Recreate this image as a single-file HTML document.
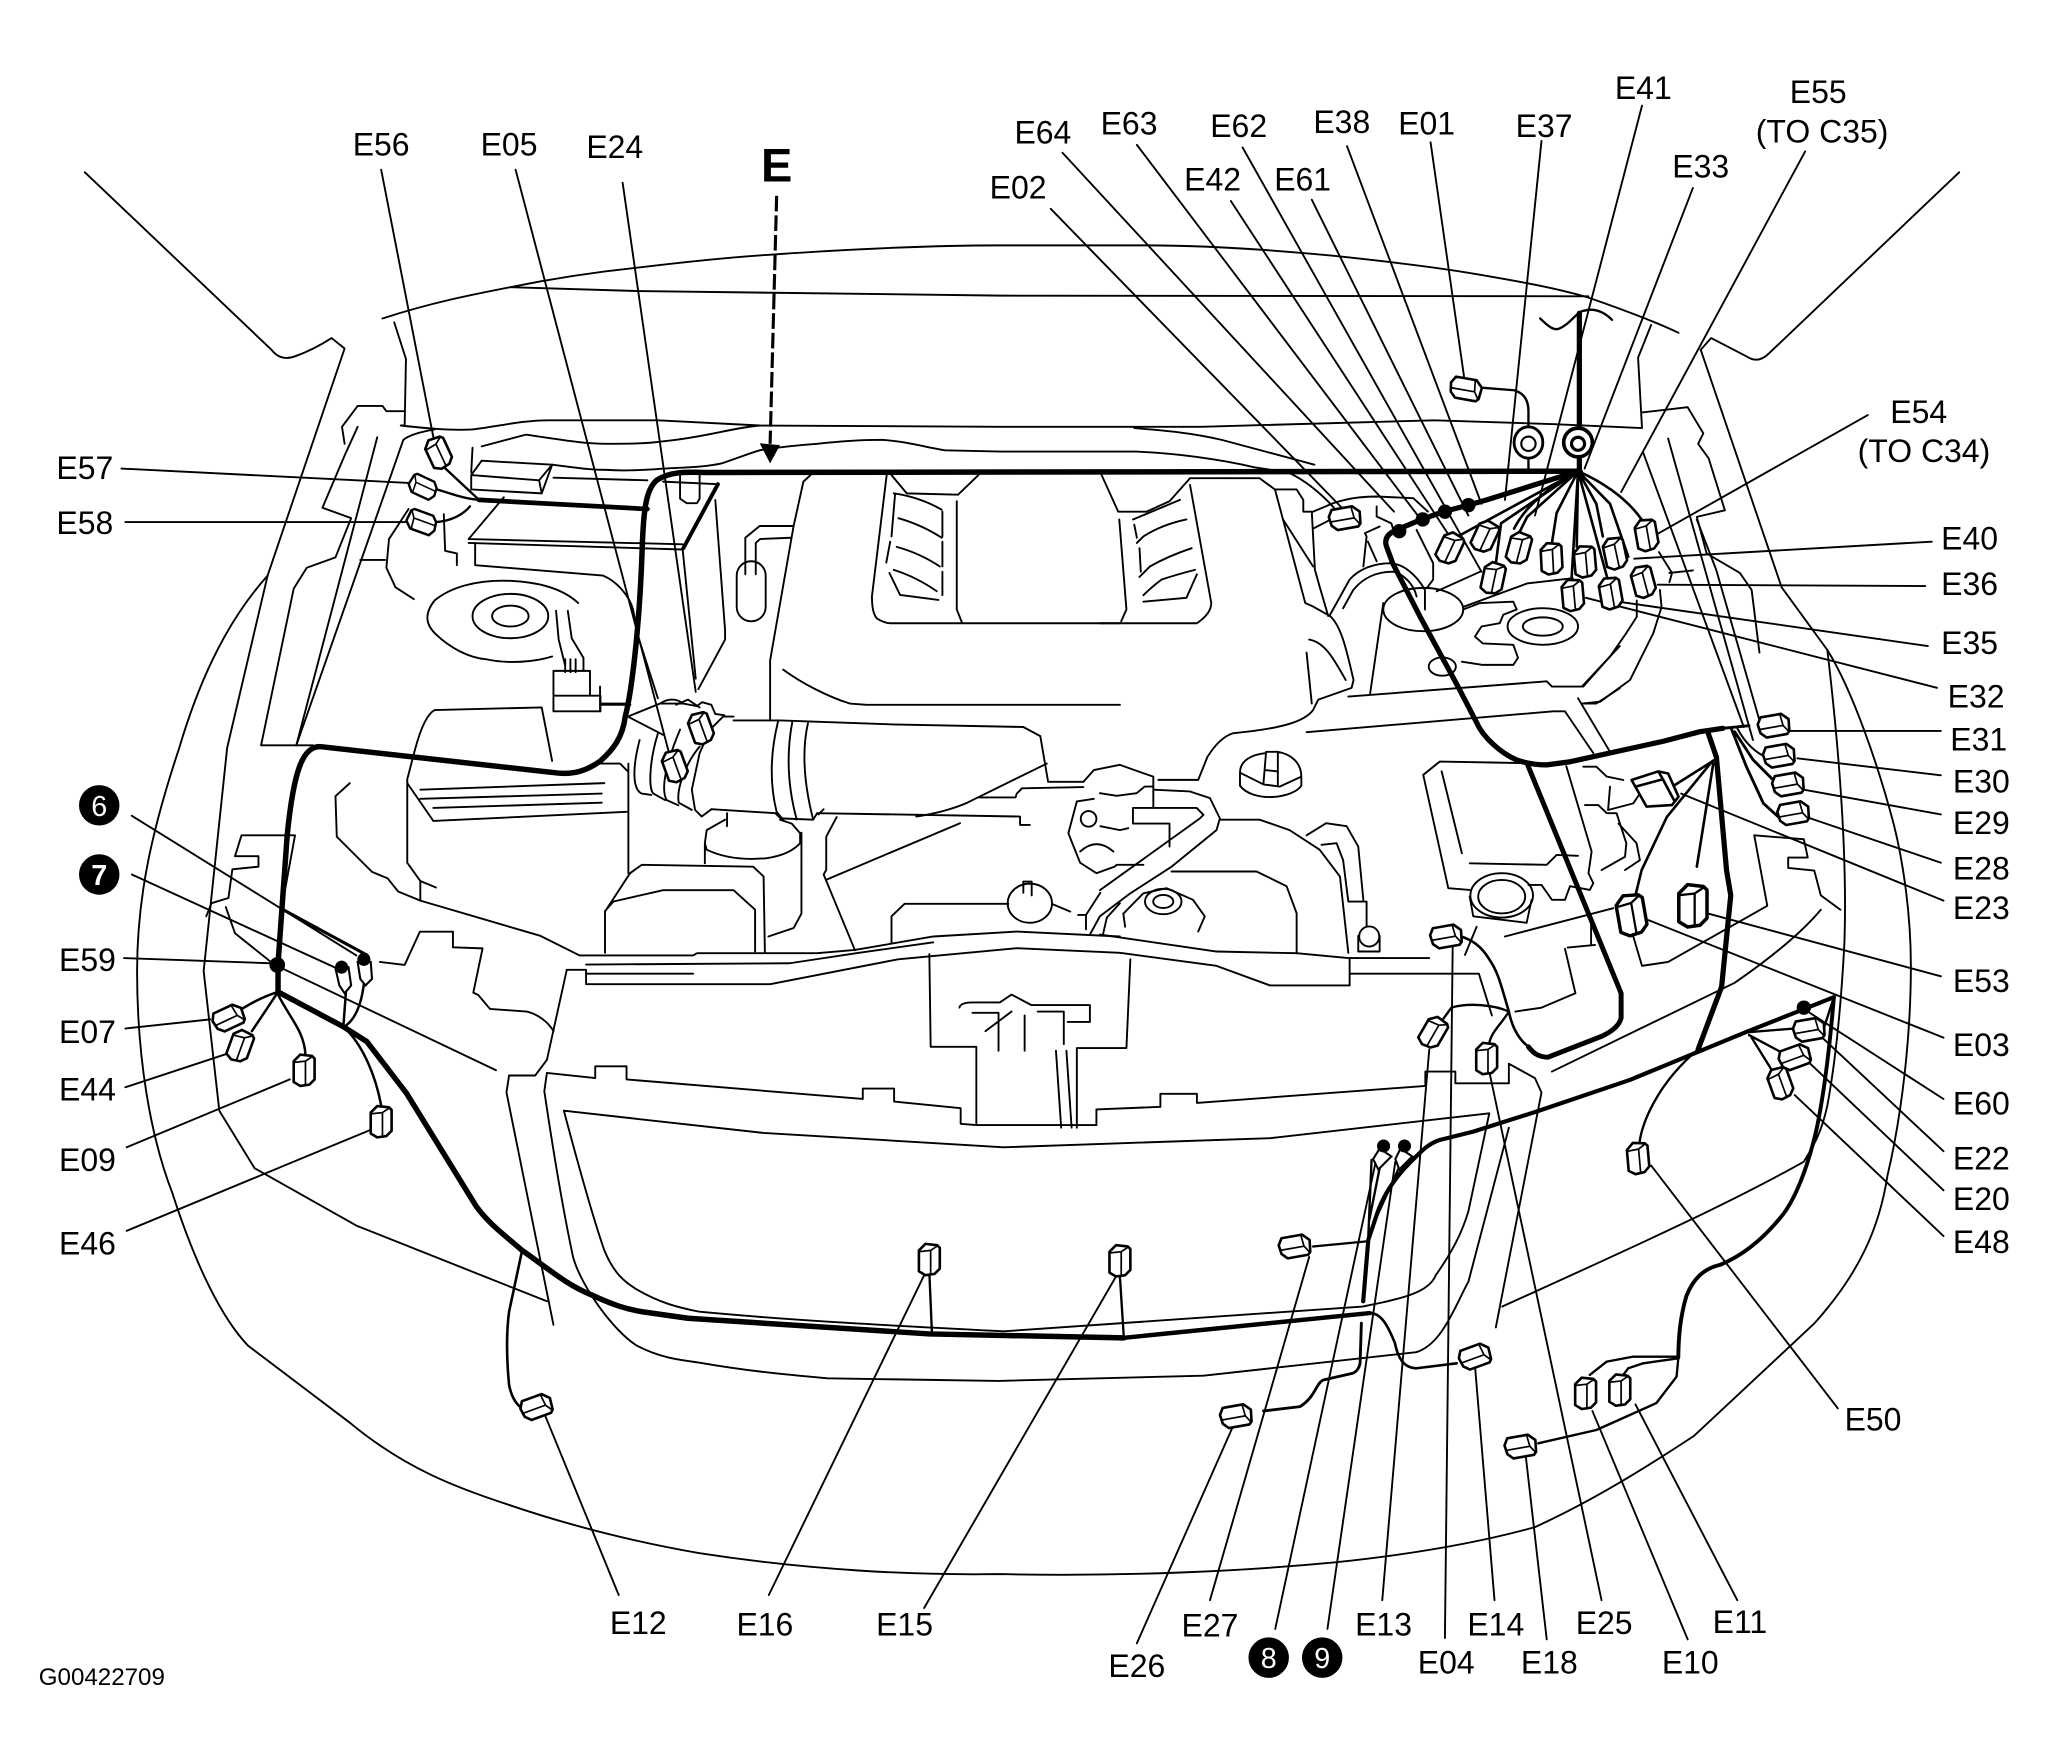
<!DOCTYPE html>
<html><head><meta charset="utf-8"><style>
html,body{margin:0;padding:0;background:#fff}
svg{display:block}
text{font-family:"Liberation Sans",sans-serif;font-size:24.5px;fill:#000;text-anchor:middle}
.t path{fill:none;stroke:#000;stroke-width:1.45;stroke-linejoin:round;stroke-linecap:round}
.t ellipse,.t circle{fill:none;stroke:#000;stroke-width:1.45}
.w path{fill:none;stroke:#000;stroke-linejoin:round;stroke-linecap:round}
</style></head><body>
<svg width="2046" height="1761" viewBox="0 0 1567.5 1349.2" xmlns="http://www.w3.org/2000/svg">
<defs>
<g id="c"><path d="M-8 -7L-3 -12L6 -11L8 -9V7L4 11L-3 12L-8 9Z" fill="#fff" stroke="#000" stroke-width="2" stroke-linejoin="round"/><path d="M-8 -6L1 -7L7 -11M1 -7V11" fill="none" stroke="#000" stroke-width="1.3"/></g>
</defs>
<g class="t">
<!-- body outlines -->
<path d="M65 132L208 268Q215 277 226 273Q240 268 254 259L264 267L205 441L174 573L156 744L168 851L195 895L273 939L419 997"/>
<path d="M205 441C170 480 150 530 137 574C115 640 105 690 105 744C105 810 115 870 132 914C150 970 170 1010 190 1031L268 1090C310 1125 350 1140 390 1153C440 1170 490 1182 536 1190C620 1203 700 1207 765 1206C860 1208 950 1204 1023 1197C1090 1190 1140 1180 1176 1170C1220 1150 1260 1125 1298 1100L1390 1014C1425 975 1440 940 1446 901C1458 850 1464 790 1464 740C1464 700 1458 660 1451 632C1440 590 1420 530 1400 498L1365 450L1303 268"/>
<path d="M1501 132L1355 271Q1347 279 1338 273L1311 259L1303 268"/>
<path d="M1400 498C1412 600 1415 670 1413 724C1410 780 1405 820 1400 847C1395 870 1388 880 1382 890C1320 925 1230 965 1151 1001"/>
<!-- hood -->
<path d="M293 244C330 232 360 226 391 220C430 212 460 208 489 205C530 200 560 197 592 195C650 191 710 188 767 188H879C930 188 980 192 1022 196C1060 200 1095 204 1125 209C1160 215 1190 220 1217 228C1240 236 1265 245 1286 255"/>
<path d="M391 220L489 223L767 226.5L1217 227"/>
<!-- cowl -->
<path d="M302 247L311 275L310 326L307 326C325 328 345 330 362 329C380 327 400 322 420 322L504 322L582 326L767 327L920 327L1099 322L1191 325L1258 328L1255 274L1265 249"/>
<path d="M1258 316L1293 312L1305 332L1301 340L1309 351L1321.5 391L1300 396L1307.5 424L1333 439L1342 452L1348 500"/>
<path d="M1259 347L1336 557M1278 336L1343 567M1300 398L1315 437L1348 552"/>
<path d="M1271 423L1281 439L1279 446M1279 439L1297 437"/>
<path d="M309 315L296 315L293 311L274 311L262 327L264 340"/>
<path d="M274 327L264 349L247 389L269 397L257 427L235 435L225 451L200 571H230L240 571"/>
<path d="M289 335L227 571"/><path d="M333 329Q315 332 309 337L227 571"/>
<path d="M313 390L298 413L296 435L303 450L317 459"/><path d="M340 394L341 422L350 424L350 433"/>
<path d="M276 429H295"/>
<!-- relay & battery -->
<path d="M369 342L403 333C425 336 445 340 465 340C480 340 495 340 509 338C540 335 560 328 582 326"/>
<path d="M362 343L361 362"/>
<path d="M361 364L369 353L423 356L415 378L361 375ZM361 364L413 368L423 356M413 368L415 378"/>
<path d="M423 356C440 358 450 360 465 360C480 361 495 360 509 359C525 358 540 358 553 355C565 351 572 348 582 345C600 342 612 341 626 340C645 338 660 337 675 337C695 338 710 343 724 345L767 346H869C900 347 935 352 961 358L987 362C1000 368 1012 378 1022 389"/>
<path d="M869 328C895 330 915 332 936 337L1007 356"/>
<path d="M424 366L496 368"/>
<path d="M359 413L386 381M359 413L523 417M508 369L550 371M359 416L523 421M364 416V433L462 441C472 445 482 456 485 467L489 488L504 535"/>
<path d="M523 421L533 520M548 383L555.5 483V490L535 528"/>
<path d="M550 371L523.5 420" style="stroke-width:3"/>
<path d="M521 364V382L526 385.5H534L536 382V364"/>
<ellipse cx="391" cy="472" rx="29" ry="17"/><ellipse cx="391" cy="472" rx="14" ry="8"/>
<path d="M443 462C430 450 411 446 391 445C365 444 345 450 333 460C325 470 326 478 333 485C345 497 360 504 372 505C390 509 410 507 423 503"/>
<path d="M426 468L428 490L433 510M435 468L438 489L447 504V514"/>
<path d="M433 505V515M437 505V515M441 505V515"/>
<path d="M425 514H452V533H460V545H424V533H452M424 533V514M460 539H482"/>
<!-- washer -->
<path d="M333 544L415 542L423 583M333 544Q325 548 318 574L312 597V661L322 675L334 680M322 675V690"/>
<path d="M312 600L332 629L480 622M322 605L463 600M322 612L461 608M332 619L461 615M481.4 585V669M460 585L475 585L481 591"/>
<path d="M268 600L257 610L258 641L285 668L297 673L305 683L322 690L414 717L444 732H531L534 730.3H626L655 727.8L715 717.5L779 713.7L858 717.5"/>
<path d="M173 695L180 715L210 739L380 820"/>
<path d="M185 640H226L215 700M185 640L180 656H198V664L178 666L175 688L162 692L158 702"/>
<path d="M291 737L310 739.3L321.7 713.8H347V725.8L369.7 726.6L362.6 760.5L366.4 762.3L375.4 773L403.5 775C412 777 420 783 424 790"/>
<!-- cross member -->
<path d="M434 744L419 812L410 824L390 824L388 837L424 1015"/>
<path d="M434 743H449V754L590 754L688 735L779 726.5L858 730L932 740L973 755H1034V734"/>
<path d="M449 739L605 738L658 730L715 722M842.7 716L932 729L993.4 730.3L1033 734H1095"/>
<path d="M449 746H531"/>
<path d="M1034 746H1133L1143 778"/>
<!-- grille -->
<path d="M419 822L417 836C425 890 432 930 439 963C445 985 470 1020 488 1031C505 1040 520 1042 536 1044C570 1050 600 1053 634 1056L765 1058L922 1054L1085 1036C1105 1030 1115 1000 1125 982L1156 864"/>
<path d="M419 822L456 826V817H480V827L661 842V834H685V844L736 849V861L748 862H840V850L889 848V838H917V845L1092 832V821H1115V830H1156V815L1176 826L1181 837L1146 1017"/>
<path d="M432 851C445 900 455 935 463 958C470 975 478 982 488 988C505 998 520 1002 536 1005C610 1012 690 1016 769 1020L1044 1001C1075 995 1095 990 1100 977C1112 960 1120 945 1125 928L1141 853L973 872L769 879L585 868L432 851Z"/>
<path d="M1189 821L1329 753C1355 735 1380 715 1395 697"/>
<!-- centre bracket -->
<path d="M712 731L713 802H748V861M866 735L863 803H825V864"/>
<path d="M809 805L813 864M817 805L821 864"/>
<path d="M735 772Q736 768 745 768H766L775 762L790 770H835M745 776H765V805M775 775L755 790M785 778V805M795 775H815V800M835 770V783H818"/>
<!-- engine cover -->
<path d="M621 364L615.5 369L608 403L590 506V551"/>
<path d="M600 513C615 524 635 534 651 539L664 540H858"/>
<path d="M679.3 364L668 457Q668 470 672 474Q678 477.5 682 477.5H858"/>
<path d="M733 384V467L737 477M683 364L694.7 378L734 379L749.6 364"/>
<path d="M684.7 378Q705 381 721.5 390.6M688.3 397Q706 402 721.5 412M687 419Q705 424 720 434M684.7 436.6Q702 442 717.7 453M681.4 439L689.6 455.8L719 459.6M722 392V411M722 415V434M722 438V456M685.7 379L683 411M682 415L679 431"/>
<path d="M844 364L856.7 392H878.5L896 384L911.7 366.4H965L976.8 375M857.5 398L863 467L859 476"/>
<path d="M911.7 371.5L928 462Q928 470 917 477.5H842.7"/>
<path d="M868 398L904 383M871 416L876 411Q890 402 909 398M873 442L881 434Q895 426 913 420M876 456Q882 450 890 444Q902 440 915.5 436.6M876 461L909 458L917 440M869 402L871 412M873 420L874 438"/>
<path d="M976.8 375L1000 462L1006 464.7L1019 472C1028 480 1032 500 1037 521L1035.5 527L1010 536L1006 544C1000 552 985 558 945 561.7C937 564 930 572 925 580L918 597.5H887.4"/>
<path d="M976.8 375H993.4L998.5 383V392H1005L1007.4 436.6L1011 449.4L1017.6 472M983 398L1006 434"/>
<path d="M1001 500L1005 539M1003 490C1015 492 1022 505 1031 521"/>
<path d="M1019 471L1034 444Q1045 432 1065 431.5C1075 432 1085 440 1091.7 452V467M1029 466L1036.8 452C1045 442 1055 438 1067.5 438C1075 440 1083 447 1085.3 457"/>
<ellipse cx="1090.4" cy="467" rx="30.6" ry="16.6"/>
<path d="M1059.8 462L1049.6 532"/>
<path d="M1033 533.7L1185 522L1189 526H1212L1231 505.6L1241 495"/>
<path d="M1001 561L1190 545H1199L1220.7 577M1209 535L1233.5 576M1213 539H1223L1241 527.3"/>
<path d="M1006 392L1021.5 385.5C1035 381 1045 380.5 1054.7 380.4L1082.8 381.7L1094 392M1006 405L1021.5 397"/>
<path d="M1054.7 388V395.7L1066 401L1067.5 406M1044.5 434L1047 411L1045.7 408.5L1057 403.4M1048 415L1054.7 430M1085.3 406L1098 431.5V444L1093 450.7"/>
<ellipse cx="1182" cy="480" rx="27" ry="14"/><ellipse cx="1182" cy="480" rx="15.3" ry="7"/>
<path d="M1121 467L1134 462L1159.4 461L1162 467L1151.7 471L1149 477.5L1135 480L1130 487.7L1136 493L1159.4 494L1163 504L1159.4 509.4H1136L1120 507"/>
<ellipse cx="1105" cy="510.7" rx="10.4" ry="7"/>
<path d="M1100.7 453L1134 438M1121 465L1170 447L1205 443"/>
<path d="M1246 485L1233.5 503L1213 526M1271.7 452L1273 465L1266.7 485L1248.8 521L1226 537.6L1211.7 539M1254 460V472.5L1246 485"/>
<!-- pipe -->
<path d="M608 403H582L571 412V440M605.6 412L582.3 413L579 416V440"/>
<rect x="564.4" y="430" width="22.2" height="46" rx="11" fill="none" stroke="#000" stroke-width="1.45"/>
<!-- intake -->
<path d="M562 552H598L684 555L784 557L797 564L803 599H830M750 611H778L779 608L783 604L830 603"/>
<path d="M545 620L594 623L598 627L623 628L626 623L781.5 625.6V632H789M702 625.6Q725 622 741 615L802 585"/>
<path d="M596 553Q587 590 595 622L600 628M607 553Q600 590 610.4 628M619 554Q612 585 623 628"/>
<path d="M562 549H554L544 559L536 577L530 605L532.5 620.5L537.6 625.6L545 620"/>
<path d="M490 567C484 590 485 605 491.6 608L499 609M504 562C497 585 497 605 500.6 608L509.5 613M521 559C510 585 506 605 510.8 613L519.7 617M536 572C525 585 518 605 520 615L530 620.5"/>
<path d="M505.7 539Q515 533 523.5 539M533.8 541L538 538L545 540L548 547M518 540L527 536L536 542M548 547L555 548"/>
<path d="M481 549L505.7 539L523.5 539L533.8 541M481 549L508 563"/>
<path d="M459.7 526V545M459.7 540H483"/>
<path d="M627 624L631 620M735.5 630.7L633 674M641 626L633 641V666.5L631 670L655 728"/>
<path d="M557 623V633M555.5 628L541.4 636L540 646L541.4 651Q560 660 587.4 657.5Q605 655 613 646V638.4L606.6 631L597.6 628M540 646V661.4M614 638V700L608 711L588.7 717.5"/>
<path d="M463.5 730V698.4L482.7 669L491.6 662.6L577 664L585 671.5L586 730M463.5 698L470 690.7L508 682H562L578.5 697V729"/>
<!-- master cylinder -->
<path d="M830 599L838 590L858 586L876 592.4L883.6 595V618M842.7 607.7L855.5 609.7L870.8 607.7L877 602.6H883.6"/>
<circle cx="834" cy="627.4" r="6"/>
<path d="M825 614L838 612M825 614L818.5 638.4L827.5 661L840 669L854 664L855.5 662.6H876"/>
<path d="M827.5 652.4Q840 641 853 652.4M843 633L858 636L864.4 634.5"/>
<path d="M842.7 682L919.3 627L922 624.3L916.8 619H868V631H895M896 631V648.6M883.6 605L911.7 606.4L927 611.5L934.6 627L932 636L897.6 664L866 684.4L842.7 702L835 716"/>
<path d="M843 684L832 701M832 701V712M826 701H832M845 716L848 703L858 692"/>
<ellipse cx="789" cy="692" rx="17" ry="15"/>
<path d="M784 684V675.4H790.4V686M683 722.7V702L693 692.5H772.5M807 693L820 698.4"/>
<path d="M897.6 667.7H962.7L985.7 679L993.4 699.7V730.3M934.6 628H965L988 636L1011 651L1026.6 671.6L1033 730"/>
<path d="M1001 640L1016 630.7L1031.7 633L1040.6 648.6L1044.5 689.4M1012.5 647.3L1024 646L1029 659L1033 690.7M1033 690.7H1047V712M1040.6 717V729H1057V717"/>
<circle cx="1049" cy="717.5" r="7.7" style="fill:#fff"/>
<path d="M950 592C950 582 960 578 970 577M979 576C990 578 997 585 997 595V602C990 612 960 615 950 602V592M950 592L968 601L980.6 602.6L997 595M968 600L970 576H979V601M969 590L979 591"/>
<path d="M862 710L860.6 700L876 684.4L893.8 680.5L914 689.4L923 702L918 713.7"/>
<ellipse cx="891.2" cy="690.7" rx="14" ry="9.7"/><ellipse cx="891.2" cy="690.7" rx="7.7" ry="5"/>
<!-- fuse box -->
<path d="M1090.4 593.7L1103 583.5L1169.6 584.7M1090.4 593.7L1109.6 680.5L1126 681.8M1104.5 591L1120 653.7M1126 661.4L1185 662.6L1192.6 655L1209 655.7"/>
<path d="M1200 587L1219.4 652.4L1217 669L1220.7 676.7L1218 681.8L1202.8 679L1199 689.4H1189L1181 678H1171"/>
<ellipse cx="1150.5" cy="686" rx="24" ry="17"/><ellipse cx="1150.5" cy="687" rx="18" ry="12.8"/>
<path d="M1126 687L1128.7 702L1169.6 707L1173.4 689.4M1131.3 710L1122.4 731.6M1153 717.5L1236 695.8"/>
<path d="M1213 587.4H1223L1231 595L1243.7 597.6M1233.5 602.7L1232 620.6L1251.3 615.5L1256.4 608M1240 631L1253.8 646L1256.4 659L1245 666.6M1214.3 616.8H1224.5L1231 623H1238.5L1246 646L1245 656.4L1227 666.6"/>
<path d="M1199 727L1207 761L1181 772L1161 775M1201 726L1222 724M1219 708V724"/>
<path d="M1250 713L1258 740L1278 737L1354 694L1344 640L1382 643L1385 657L1370 657V665L1390 667L1395 686L1410 697"/>
<!-- leaders -->
<path d="M292 130L332 335M395 130L516 590M477 140L533 530M93 359L313 370M96 400L318 400"/>
<path d="M805 160L1028 389M814 117L1068 392M871 111L1090 400M943 154L1110 410M952 113L1135 438M1005 153L1125 395M1032 112L1135 386M1096 109L1122 291M1181 108L1153 383M1258 81L1176 395M1297 144L1214 359M1383 116L1242 377M1431 318L1270 409M1480 415L1252 428M1475 449L1270 448M1477 495L1240 461M1484 527L1215 458M1487 560L1370 560M1487 594L1377 581M1487 624L1382 605M1487 661L1387 627M1489 690L1288 608M1487 748L1309 700M1489 795L1263 705M1489 842L1385 775M1489 882L1395 794M1489 912L1387 815M1489 947L1375 839M1408 1079L1265 893M1331 1226L1253 1076M1293 1256L1220 1081M1227 1226L1141 821M1185 1256L1169 1116M1145 1226L1130 1046M1107 1255L1113 721M1059 1226L1095 804M1017 1248L1069 890M977 1248L1054 890M927 1226L1003 963M871 1259L945 1092M708 1232L855 978M589 1222L709 975M474 1222L417 1083M97 943L283 866M97 879L222 827M96 833L175 807M96 788L161 781M95 734L207 738M101 625L273 732M101 670L256 741"/>
</g>
<!-- E arrow -->
<path d="M595 150L590 340" fill="none" stroke="#000" stroke-width="2.4" stroke-dasharray="12 3"/>
<path d="M582 339.6L597.6 341L590 355Z" fill="#000"/>
<!-- harness -->
<g class="w">
<path stroke-width="4.2" d="M1210 361L545 362C530 362 515 360 503 368C495 375 493 390 492 420C490 480 484 530 479 549C477 565 470 574 460 583C450 590 440 594 425 592L245 572C232 572 225 590 220 640L213 738V760L263 786.6L281 798L311.5 837.7L365 924.5C375 938 385 945 400 958C420 972 435 985 453 992C470 1000 480 1003 492 1005L527 1010L712 1022L861 1025"/>
<path stroke-width="3.4" d="M861 1025L1049.5 1006"/>
<path stroke-width="3.6" d="M367 383L496 390"/>
<path stroke-width="4" d="M1209 361L1139 383L1125 387L1106 392L1088 398.4L1070 406Q1060 410 1062 418L1067 431.6L1088 472.5L1117 526L1131 553C1136 565 1150 577 1162 582.3C1170 585 1178 586 1185 586L1203 583.6L1274 568L1302.4 560.6L1320 558"/>
<path stroke-width="3.8" d="M1170 585L1242 761V780Q1240 788 1227 794L1186 810C1178 810 1174 806 1171 802"/>
<path stroke-width="2" d="M1171 802C1162 795 1158 785 1156 775C1150 755 1148 745 1141 735C1135 725 1128 720 1118 717"/>
<path stroke-width="1.8" d="M1156 775C1145 770 1125 768 1112 772L1104 783M1156 775C1150 785 1143 790 1141 799"/>
<path stroke-width="4" d="M1308.8 562L1315 580L1322.8 667L1326 686L1319 756L1301 804"/>
<path stroke-width="1.8" d="M1301 804C1270 830 1258 860 1256 876"/>
<path stroke-width="3.2" d="M1405 764L1337 791L1248.7 827.4L1177 851.7L1128.7 867L1103 873.4C1095 876 1090 881 1085 886C1070 900 1060 915 1055 930L1048.3 950L1044.4 997"/>
<path stroke-width="2.2" d="M1043 1013.8L1042 1044.5Q1041 1050 1036.8 1052L1013.8 1057.3C1008 1060 1008 1070 996 1077.7L968 1081"/>
<path stroke-width="2" d="M1049.5 1006C1058 1006 1063 1015 1068.7 1029C1071 1040 1075 1048 1085.3 1048.3L1116 1044.5"/>
<path stroke-width="3" d="M1405 764C1402 800 1398 835 1392 864C1385 895 1375 920 1364 933C1350 950 1335 962 1318 969C1305 972 1297 980 1292 993C1287 1010 1286 1025 1285.8 1040"/>
<path stroke-width="1.8" d="M1285.8 1040.7L1284.5 1054.7L1269 1075L1223 1095.6L1178.5 1105.8M1285.8 1039.4H1251.3L1231 1043.2L1218 1053.4M1285.8 1040.7L1259 1044.5L1247.5 1048.3L1243.6 1053.4"/>
<path stroke-width="1.8" d="M1006 955L1048 951M1050.8 888.7L1048.3 947.4M1058 890L1049 935M1073 892L1049 945M1337 791L1375 788M1340 793L1368 808M1342 795L1360 824M1405 764L1395 795"/>
<path stroke-width="2" d="M1314 582L1283 601.5M1312 583L1277 626L1257.7 666.7L1252 690M1312.6 585L1300 664"/>
<path stroke-width="2.2" d="M1326.7 559L1338 587.4L1351 615.5L1363.7 627M1329 560.6L1343 582L1363.7 602.8M1320 558L1340 556"/>
<path stroke-width="1.6" d="M1331 558Q1340 575 1355 581"/>
<path stroke-width="4" d="M1210 362V240"/>
<path stroke-width="1.8" d="M1180 244C1186 250 1190 253 1194 252C1204 248 1208 238 1214 238C1220 236 1228 238 1235 245"/>
<path stroke-width="1.8" d="M1135 297L1160 299Q1171 302 1171 315V330M1171 347V362"/>
<!-- hub fan -->
<path stroke-width="2" d="M1209 361L1115 412M1209 361C1190 372 1170 385 1160 405M1209 361L1170 396L1162 412M1209 361L1150 401L1146 432M1209 361L1192.6 393L1189 416M1209 361L1208 419M1209 361L1204 444M1209 361L1223 386L1228 411M1209 361C1225 368 1245 380 1257.7 398M1209 361L1233.5 386L1247.5 426.5M1209 361L1232 445"/>
<!-- left -->
<path stroke-width="1.8" d="M337 355L367 383M335 375C345 378 355 382 367 383M332 400C345 400 355 394 360 388"/>
<path stroke-width="2" d="M390 1061C388 1040 388 1020 390 1005L400 958M390 1061Q393 1076 402 1080"/>
<path stroke-width="1.9" d="M213 760C200 764 190 770 182 775M213 760L193 790M213 762C222 780 233 790 234 808M263 786.6C278 800 288 825 292 847M263 787L265 760M263 787C272 782 277 770 279 752"/>
<path stroke-width="1.8" d="M712 975L714 1022M858 978L861 1025"/>
<path stroke-width="2.4" d="M217 697L281 731.7"/>
</g>
<circle cx="212.4" cy="739.3" r="6"/><circle cx="1072" cy="407" r="5.5"/><circle cx="1090" cy="398" r="5.5"/><circle cx="1107" cy="392" r="5.5"/><circle cx="1125" cy="387" r="5.5"/><circle cx="1382" cy="772" r="5.5"/><circle cx="1210" cy="362" r="3"/>
<!-- grommets -->
<ellipse cx="1171" cy="339" rx="11" ry="12" fill="#fff" stroke="#000" stroke-width="2.2"/><circle cx="1171" cy="340" r="5.5" fill="#fff" stroke="#000" stroke-width="1.6"/>
<ellipse cx="1209" cy="339" rx="11" ry="11" fill="#fff" stroke="#000" stroke-width="2.8"/><circle cx="1209" cy="340" r="5" fill="#fff" stroke="#000" stroke-width="2.4"/>
<!-- connectors -->
<use href="#c" transform="translate(1123 298) rotate(100)"/>
<use href="#c" transform="translate(336 347) rotate(-25)"/>
<use href="#c" transform="translate(324 373) rotate(-65) scale(.9)"/>
<use href="#c" transform="translate(323 400) rotate(-70) scale(.95)"/>
<use href="#c" transform="translate(517 587) rotate(-20)"/>
<use href="#c" transform="translate(537 558) rotate(-20)"/>
<use href="#c" transform="translate(1030.4 397) rotate(80)"/>
<use href="#c" transform="translate(1110.8 420) rotate(25)"/>
<use href="#c" transform="translate(1137.7 411) rotate(25)"/>
<use href="#c" transform="translate(1163.7 420) rotate(15)"/>
<use href="#c" transform="translate(1188.7 428) rotate(-3)"/>
<use href="#c" transform="translate(1214.3 430.3) rotate(-5)"/>
<use href="#c" transform="translate(1237.3 424) rotate(-12)"/>
<use href="#c" transform="translate(1261.5 410) rotate(-10)"/>
<use href="#c" transform="translate(1144 443) rotate(12)"/>
<use href="#c" transform="translate(1205 456) rotate(-5)"/>
<use href="#c" transform="translate(1234 454.6) rotate(-10)"/>
<use href="#c" transform="translate(1259 445.7) rotate(-15)"/>
<use href="#c" transform="translate(1359 556) rotate(80)"/>
<use href="#c" transform="translate(1363 579) rotate(80)"/>
<use href="#c" transform="translate(1370 601) rotate(80)"/>
<use href="#c" transform="translate(1374 623) rotate(80)"/>
<path d="M1250 597.6L1270.5 591L1278 592.6L1286 610.4L1281 616.8L1261.5 618ZM1270.5 591L1274 597L1252 603M1274 597L1283 614" fill="#fff" stroke="#000" stroke-width="2" stroke-linejoin="round"/>
<use href="#c" transform="translate(1250 701) rotate(-10) scale(1.3)"/>
<use href="#c" transform="translate(1297 694) scale(1.35)"/>
<use href="#c" transform="translate(1108 717.5) rotate(80)"/>
<use href="#c" transform="translate(1098 791) rotate(30)"/>
<use href="#c" transform="translate(1139 811)"/>
<use href="#c" transform="translate(1386 789) rotate(80)"/>
<use href="#c" transform="translate(1375 810) rotate(70)"/>
<use href="#c" transform="translate(1364 830) rotate(-20)"/>
<use href="#c" transform="translate(1255 887.4) rotate(-5)"/>
<use href="#c" transform="translate(992 955) rotate(80)"/>
<use href="#c" transform="translate(947 1085) rotate(80)"/>
<use href="#c" transform="translate(1130 1039.4) rotate(70)"/>
<use href="#c" transform="translate(1214.8 1067.5)"/>
<use href="#c" transform="translate(1241 1065)"/>
<use href="#c" transform="translate(1165 1108.3) rotate(80)"/>
<use href="#c" transform="translate(858 966)"/>
<use href="#c" transform="translate(712 965)"/>
<use href="#c" transform="translate(411 1078) rotate(70)"/>
<use href="#c" transform="translate(175 780) rotate(65)"/>
<use href="#c" transform="translate(184 801.4) rotate(20)"/>
<use href="#c" transform="translate(233 820)"/>
<use href="#c" transform="translate(292 859.4)"/>
<!-- small dark connectors -->
<g fill="#fff" stroke="#000" stroke-width="1.6">
<path d="M257 742L267 741L269 755L264 761L260 755Z"/><path d="M274 737L284 737L285 750L280 755L276 750Z"/>
<path d="M1052 888L1057 880L1066 886L1056 896Z"/><path d="M1069 888L1073 880L1082 886L1072 896Z"/>
</g>
<circle cx="261.7" cy="741" r="5"/><circle cx="278.8" cy="735" r="5"/><circle cx="1060" cy="878" r="5"/><circle cx="1076" cy="878" r="5"/>
<!-- labels -->
<g>
<text x="292" y="119">E56</text><text x="390" y="119">E05</text><text x="471" y="121">E24</text>
<text x="799" y="110">E64</text><text x="865" y="103">E63</text><text x="949" y="105">E62</text><text x="1028" y="102">E38</text><text x="1093" y="103">E01</text><text x="1183" y="105">E37</text><text x="1259" y="76">E41</text>
<text x="1393" y="79">E55</text><text x="1396" y="109">(TO C35)</text><text x="1303" y="136">E33</text><text x="780" y="152">E02</text><text x="929" y="146">E42</text><text x="998" y="146">E61</text>
<text x="1470" y="324">E54</text><text x="1474" y="354">(TO C34)</text>
<text x="65" y="367">E57</text><text x="65" y="409">E58</text>
<text x="1509" y="421">E40</text><text x="1509" y="456">E36</text><text x="1509" y="501">E35</text><text x="1514" y="542">E32</text>
<text x="1516" y="575">E31</text><text x="1518" y="607">E30</text><text x="1518" y="639">E29</text><text x="1518" y="674">E28</text><text x="1518" y="704">E23</text><text x="1518" y="760">E53</text><text x="1518" y="809">E03</text><text x="1518" y="854">E60</text><text x="1518" y="896">E22</text><text x="1518" y="927">E20</text><text x="1518" y="960">E48</text>
<text x="1435" y="1096">E50</text>
<text x="67" y="744">E59</text><text x="67" y="799">E07</text><text x="67" y="843">E44</text><text x="67" y="897">E09</text><text x="67" y="961">E46</text>
<text x="489" y="1252">E12</text><text x="586" y="1253">E16</text><text x="693" y="1253">E15</text><text x="871" y="1285">E26</text><text x="927" y="1254">E27</text><text x="1060" y="1253">E13</text><text x="1146" y="1253">E14</text><text x="1229" y="1252">E25</text><text x="1108" y="1282">E04</text><text x="1187" y="1282">E18</text><text x="1295" y="1282">E10</text><text x="1333" y="1251">E11</text>
<text x="595" y="139" style="font-size:36px;font-weight:bold">E</text>
<text x="78" y="1291" style="font-size:18.5px">G00422709</text>
</g>
<circle cx="76" cy="617" r="15.5"/><circle cx="76" cy="670" r="15.5"/><circle cx="972" cy="1270" r="15.5"/><circle cx="1013" cy="1270" r="15.5"/>
<text x="76" y="625" style="fill:#fff;font-size:22px">6</text><text x="76" y="678" style="fill:#fff;font-size:22px;font-weight:bold">7</text><text x="972" y="1278" style="fill:#fff;font-size:22px">8</text><text x="1013" y="1278" style="fill:#fff;font-size:22px">9</text>
</svg>
</body></html>
